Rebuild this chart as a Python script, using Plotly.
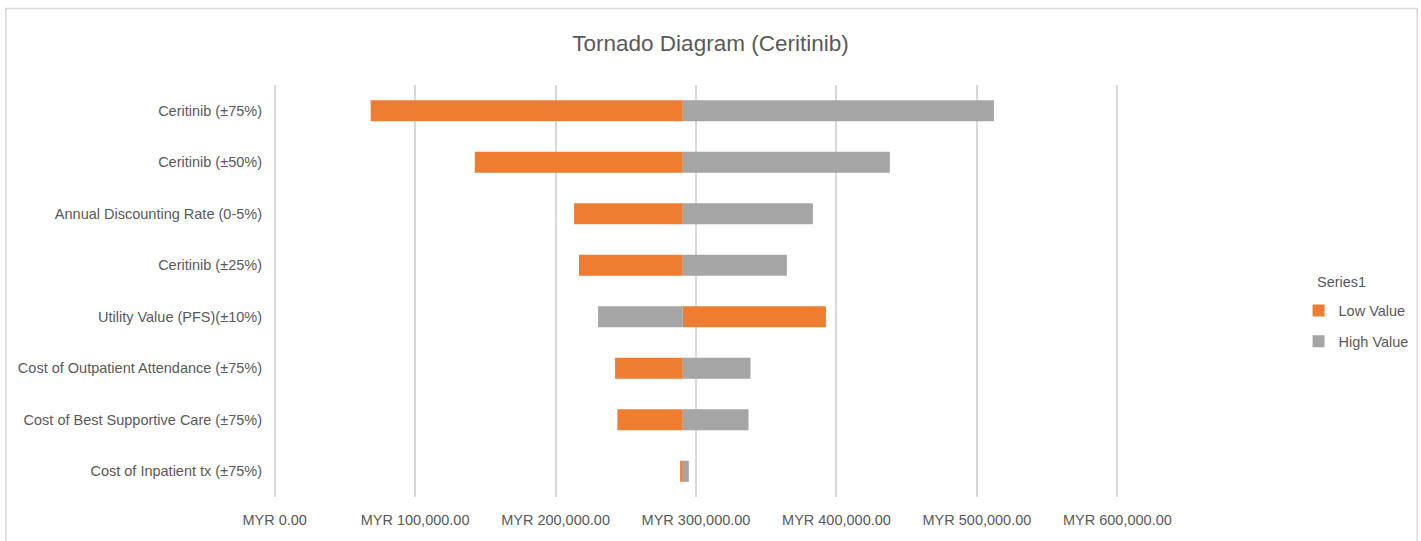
import plotly.graph_objects as go

categories = [
    "Ceritinib (±75%)",
    "Ceritinib (±50%)",
    "Annual Discounting Rate (0-5%)",
    "Ceritinib (±25%)",
    "Utility Value (PFS)(±10%)",
    "Cost of Outpatient Attendance (±75%)",
    "Cost of Best Supportive Care (±75%)",
    "Cost of Inpatient tx (±75%)",
]
base_value = 290600
low_values = [68400, 142500, 213200, 216700, 392500, 242400, 244000, 288700]
high_values = [512100, 438000, 383200, 364700, 230300, 338800, 337400, 294900]
tick_vals = [0, 100000, 200000, 300000, 400000, 500000, 600000]
tick_text = ["MYR 0.00", "MYR 100,000.00", "MYR 200,000.00", "MYR 300,000.00",
             "MYR 400,000.00", "MYR 500,000.00", "MYR 600,000.00"]

FONT = "Liberation Sans, Arial, sans-serif"
TXT = "#595959"

# layout geometry (pixels)
W, H = 1421, 541
PAD = 4000                       # data-units padding so edge gridlines are drawn
PX_PER = 842 / 600000
PL = 275 - PAD * PX_PER
PR = 1117 + PAD * PX_PER
PT, PB = 85, 497
PW, PH = PR - PL, PB - PT


def px(x):
    return (x - PL) / PW


def py(y):
    return (PB - y) / PH


fig = go.Figure()
fig.add_trace(go.Bar(
    y=categories, x=[v - base_value for v in low_values], base=base_value,
    orientation="h", name="Low Value", legendgroup="low",
    marker=dict(color="#ED7D31", line=dict(width=0)), width=0.41,
))
fig.add_trace(go.Bar(
    y=categories, x=[v - base_value for v in high_values], base=base_value,
    orientation="h", name="High Value", legendgroup="high",
    marker=dict(color="#A5A5A5", line=dict(width=0)), width=0.41,
))

fig.update_layout(
    width=W, height=H,
    barmode="overlay",
    paper_bgcolor="white", plot_bgcolor="white",
    margin=dict(l=PL, r=W - PR, t=PT, b=H - PB, autoexpand=False),
    font=dict(family=FONT, color=TXT, size=14.5),
    title=dict(text="Tornado Diagram (Ceritinib)", x=0.5, xref="container",
               y=1 - 43 / H, yanchor="middle",
               font=dict(family=FONT, size=22.5, color=TXT)),
    xaxis=dict(range=[-PAD, 600000 + PAD], tickvals=tick_vals, ticktext=tick_text,
               showgrid=True, gridcolor="#D9D9D9", gridwidth=1.5, zeroline=False,
               showline=False, ticks="", tickfont=dict(size=14.5, color=TXT),
               ticklabelstandoff=12, fixedrange=True),
    yaxis=dict(autorange="reversed", showgrid=False, zeroline=False, showline=False,
               ticks="", ticklabelstandoff=6,
               tickfont=dict(size=14.5, color=TXT), fixedrange=True),
    legend=dict(x=px(1298), xanchor="left", y=py(326), yanchor="middle",
                traceorder="grouped", font=dict(size=14.5, color=TXT),
                itemwidth=30, tracegroupgap=9),
    annotations=[dict(text="Series1", xref="paper", yref="paper",
                      x=px(1341), y=py(282),
                      xanchor="center", yanchor="middle", showarrow=False,
                      font=dict(size=14.5, color=TXT))],
    shapes=[dict(type="rect", xref="paper", yref="paper",
                 x0=px(6.5), x1=px(1416.5), y0=py(560), y1=py(8.5),
                 line=dict(color="#D9D9D9", width=1.5), fillcolor="rgba(0,0,0,0)",
                 layer="below")],
)

fig.write_html("out.html", config={"displayModeBar": False},
               post_script="document.body.style.margin='0px';")
